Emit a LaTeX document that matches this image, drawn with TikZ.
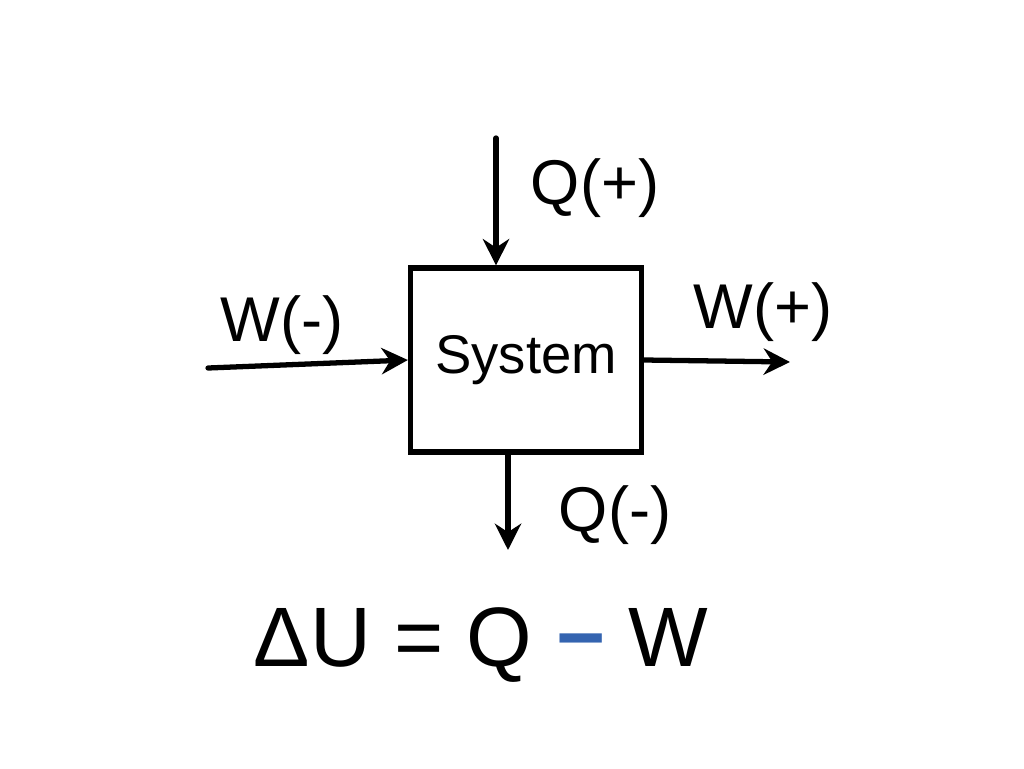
\documentclass[tikz,border=0pt]{standalone}
\usepackage{fontspec}
\setmainfont{Liberation Sans}
\usepackage{tikz}
\usetikzlibrary{arrows.meta,positioning,calc}
\definecolor{penblue}{RGB}{52,100,176}

\begin{document}
\begin{tikzpicture}[
  x=0.02cm, y=-0.02cm,
  b/.style={draw, line width=3pt, minimum width=4.62cm, minimum height=3.68cm,
    font=\fontsize{31}{34}\selectfont},
  d/.style={-{Stealth[length=15pt,width=15pt]}, line width=3pt, line cap=round},
  l/.style={font=\fontsize{36}{40}\selectfont}
]
\useasboundingbox (0,0) rectangle (1024,768);
\node[b] (sys) at (526,360) {\raisebox{-8pt}{System}};
\coordinate (qin) at (496,138);
\coordinate (win) at (208,368);
\coordinate (wout) at (790,362);
\coordinate (qout) at (508,550);
\draw[d] (qin) -- (qin |- sys.north);
\draw[d] (win) -- (sys.west);
\draw[d] (sys.east) -- (wout);
\draw[d] (qout |- sys.south) -- (qout);
\node[l] (qp) at (595,188) {Q(+)};
\node[l] (wm) at (282,325) {W(-)};
\node[l] (wp) at (763,312) {W(+)};
\node[l] (qm) at (615,515) {Q(-)};
\node[font=\fontsize{48}{52}\selectfont] (eq) at (481,645)
  {ΔU = Q \textcolor{penblue}{\bfseries −} W};
\end{tikzpicture}
\end{document}
